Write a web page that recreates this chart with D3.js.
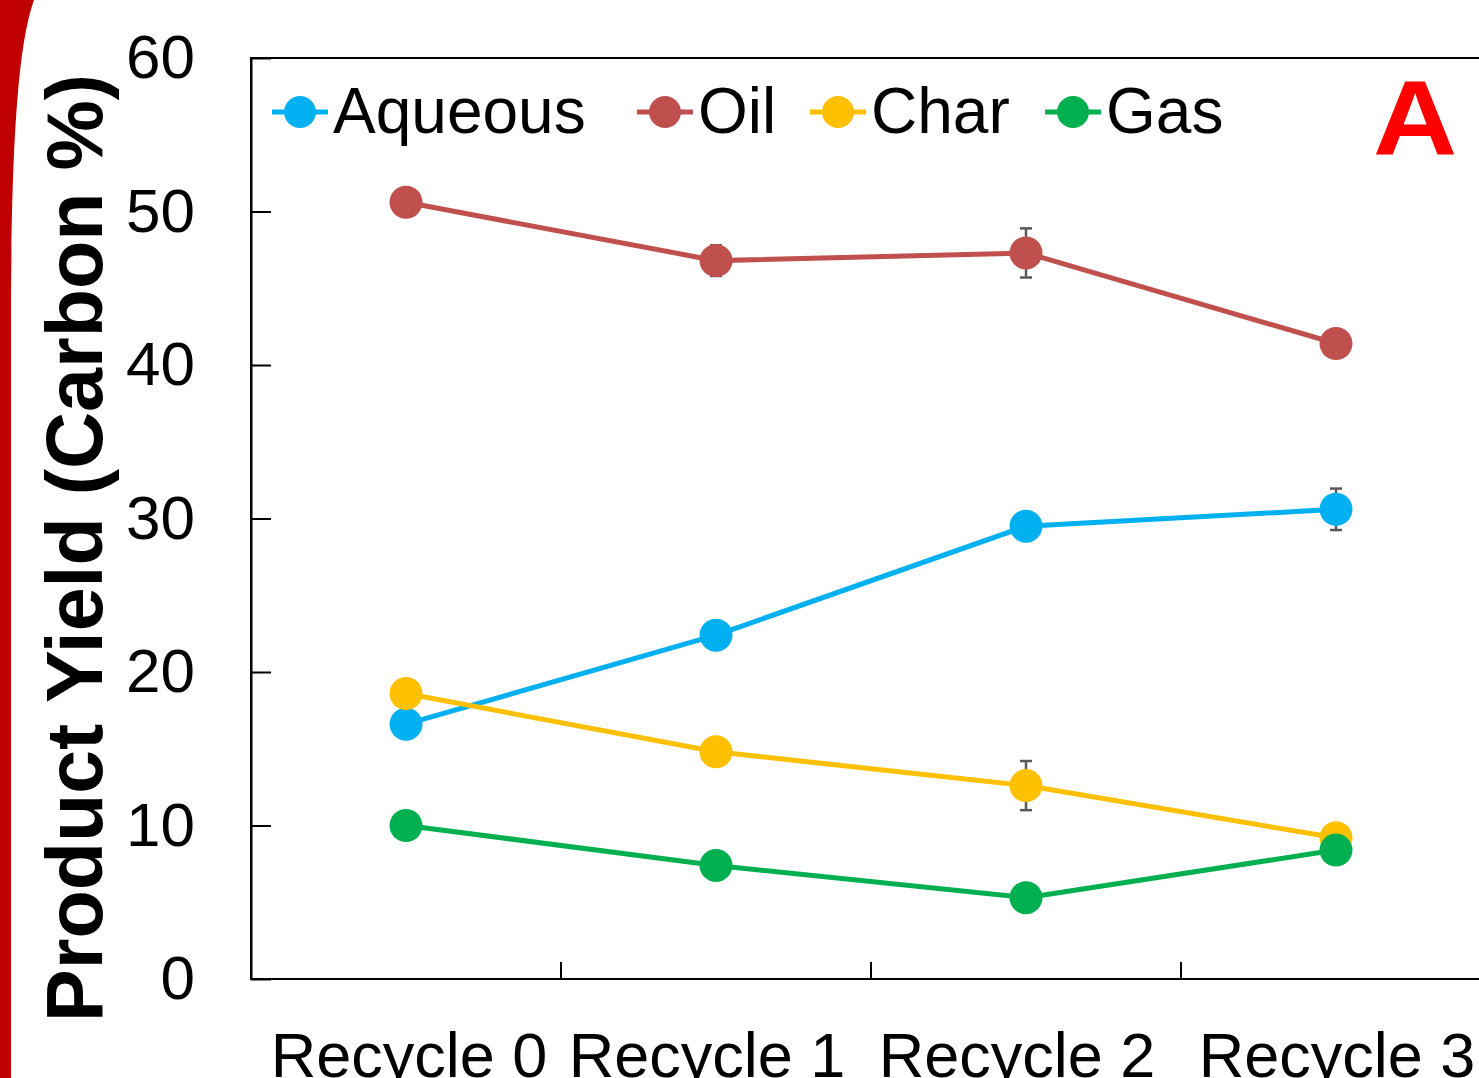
<!DOCTYPE html>
<html>
<head>
<meta charset="utf-8">
<script src="https://cdn.jsdelivr.net/npm/d3@7"></script>
<style>
  html, body { margin: 0; padding: 0; background: #fff; }
  svg { display: block; font-family: "Liberation Sans", Arial, sans-serif; }
</style>
</head>
<body>
<svg id="chart" width="1479" height="1078"></svg>
<script>
// Recycle stages on the x axis
const categories = ["Recycle 0", "Recycle 1", "Recycle 2", "Recycle 3"];

// Carbon yield (%) for each product fraction
const aqueous = [16.6, 22.4, 29.5, 30.6];
const oil     = [50.6, 46.8, 47.3, 41.4];
const char    = [18.6, 14.8, 12.6, 9.2];
const gas     = [10.0, 7.4, 5.3, 8.4];

// Standard deviations (0 = bar hidden by marker)
const aqueousErr = [0, 0, 0, 1.35];
const oilErr     = [0, 1.0, 1.6, 0];
const charErr    = [0, 0, 1.6, 0];
const gasErr     = [0, 0, 0, 0];

const seriesNames = ["Aqueous", "Oil", "Char", "Gas"];
const yTicks = [0, 10, 20, 30, 40, 50, 60];

const series = [
  { name: seriesNames[0], values: aqueous, errs: aqueousErr, color: "#00B0F0" },
  { name: seriesNames[1], values: oil,     errs: oilErr,     color: "#C0504D" },
  { name: seriesNames[2], values: char,    errs: charErr,    color: "#FFC000" },
  { name: seriesNames[3], values: gas,     errs: gasErr,     color: "#00B050" }
];

const svg = d3.select("#chart");

// Red slide accent on the left edge
svg.append("path")
  .attr("d", "M0,0 H34 C20,40 12,120 11,300 V1078 H0 Z")
  .attr("fill", "#C00000");

const plot = { left: 251, top: 58, right: 1491, bottom: 979 };

const x = d3.scaleBand().domain(categories).range([plot.left, plot.right]).padding(0);
const y = d3.scaleLinear().domain([0, 60]).range([plot.bottom, plot.top]);

// Frame around plot area
svg.append("rect")
  .attr("x", plot.left).attr("y", plot.top)
  .attr("width", plot.right - plot.left).attr("height", plot.bottom - plot.top)
  .attr("fill", "none").attr("stroke", "#000").attr("stroke-width", 2);

// Y axis with inward ticks
const yAxis = svg.append("g")
  .attr("transform", `translate(${plot.left},0)`)
  .call(d3.axisLeft(y).tickValues(yTicks).tickFormat(d3.format("d"))
    .tickSize(-20).tickSizeOuter(0).tickPadding(56));
yAxis.select(".domain").attr("stroke", "#000").attr("stroke-width", 2);
yAxis.selectAll(".tick line").attr("stroke", "#000").attr("stroke-width", 2);
yAxis.selectAll(".tick text")
  .attr("font-size", 62).attr("fill", "#000")
  .attr("font-family", "'Liberation Sans', Arial, sans-serif");

// X axis: inward ticks at category boundaries, labels centred in each band
svg.append("g").selectAll("line")
  .data(categories.slice(1))
  .join("line")
  .attr("x1", d => x(d)).attr("x2", d => x(d))
  .attr("y1", plot.bottom).attr("y2", plot.bottom - 17)
  .attr("stroke", "#000").attr("stroke-width", 2);

// small horizontal nudges for the category labels
const labelNudge = [3, -9, -9, 1];
svg.append("g").selectAll("text")
  .data(categories)
  .join("text")
  .attr("x", (d, i) => x(d) + x.bandwidth() / 2 + labelNudge[i])
  .attr("y", 1077)
  .attr("text-anchor", "middle")
  .attr("font-size", 63)
  .attr("fill", "#000")
  .text(d => d);

// Y axis title
svg.append("text")
  .attr("transform", "translate(102,548) rotate(-90)")
  .attr("text-anchor", "middle")
  .attr("font-size", 79)
  .attr("font-weight", "bold")
  .attr("fill", "#000")
  .text("Product Yield (Carbon %)");

const cx = (d, i) => x(categories[i]) + x.bandwidth() / 2;

const line = d3.line()
  .x((d, i) => cx(d, i))
  .y(d => y(d));

const groups = svg.append("g").selectAll("g.series")
  .data(series)
  .join("g")
  .attr("class", "series");

groups.append("path")
  .attr("d", s => line(s.values))
  .attr("fill", "none")
  .attr("stroke", s => s.color)
  .attr("stroke-width", 5);

// Error bars
groups.each(function(s) {
  const g = d3.select(this).append("g");
  s.values.forEach((v, i) => {
    const e = s.errs[i];
    if (!e) return;
    const xc = cx(v, i);
    g.append("line").attr("x1", xc).attr("x2", xc)
      .attr("y1", y(v - e)).attr("y2", y(v + e))
      .attr("stroke", "#595959").attr("stroke-width", 2.5);
    [v - e, v + e].forEach(t => {
      g.append("line").attr("x1", xc - 6).attr("x2", xc + 6)
        .attr("y1", y(t)).attr("y2", y(t))
        .attr("stroke", "#595959").attr("stroke-width", 2.5);
    });
  });
});

groups.selectAll("circle")
  .data(s => s.values.map(v => ({ v, color: s.color })))
  .join("circle")
  .attr("cx", (d, i) => cx(d, i))
  .attr("cy", d => y(d.v))
  .attr("r", 16.5)
  .attr("fill", d => d.color);

// Legend
const legendX = [300, 665, 838, 1073];
const legend = svg.append("g").selectAll("g")
  .data(series)
  .join("g")
  .attr("transform", (d, i) => `translate(${legendX[i]},112)`);
legend.append("line")
  .attr("x1", -28).attr("x2", 28)
  .attr("stroke", d => d.color).attr("stroke-width", 5);
legend.append("circle").attr("r", 16).attr("fill", d => d.color);
legend.append("text")
  .attr("x", 33).attr("y", 21)
  .attr("font-size", 64).attr("fill", "#000")
  .text(d => d.name);

// Panel letter
svg.append("text")
  .attr("transform", "translate(1415,155) scale(1.1,1)")
  .attr("text-anchor", "middle")
  .attr("font-size", 106)
  .attr("font-weight", "bold")
  .attr("fill", "#FF0000")
  .text("A");
</script>
</body>
</html>
